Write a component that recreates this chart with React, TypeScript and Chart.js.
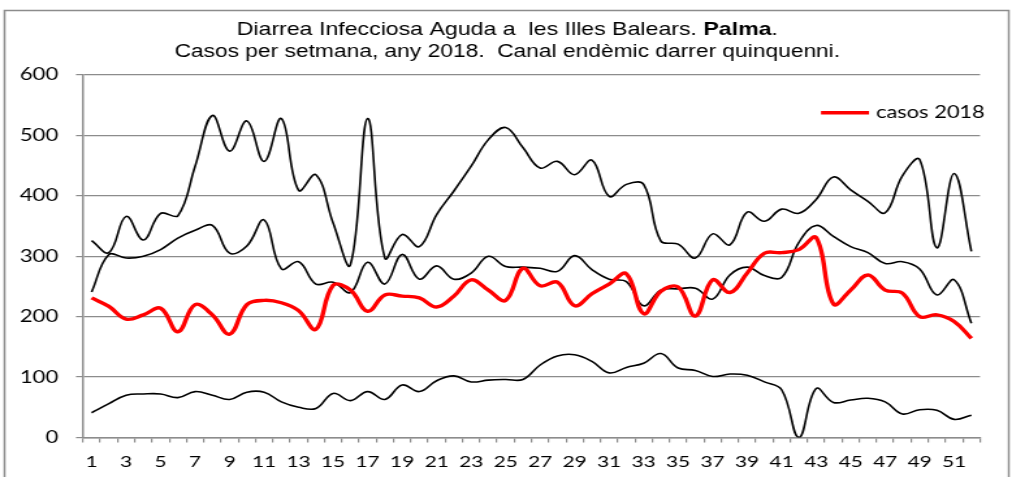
import React, { useEffect, useRef } from 'react';
import { Chart, registerables } from 'chart.js';

Chart.register(...registerables);

// ---- data ----
const weeks = [
  '1', '2', '3', '4', '5', '6', '7', '8', '9', '10', '11', '12', '13',
  '14', '15', '16', '17', '18', '19', '20', '21', '22', '23', '24', '25', '26',
  '27', '28', '29', '30', '31', '32', '33', '34', '35', '36', '37', '38', '39',
  '40', '41', '42', '43', '44', '45', '46', '47', '48', '49', '50', '51', '52',
];

const casos2018 = [
  231, 217, 196, 203, 214, 175, 220, 203, 171, 220, 227, 223, 210,
  179, 252, 244, 209, 236, 234, 231, 216, 234, 261, 244, 227, 280,
  251, 257, 218, 238, 254, 271, 205, 242, 249, 201, 261, 240, 272,
  305, 306, 311, 331, 221, 244, 269, 244, 239, 200, 203, 192, 164,
];

const maxim = [
  326, 306, 366, 327, 371, 367, 449, 533, 474, 524, 457, 528, 409,
  435, 355, 286, 528, 297, 336, 316, 369, 408, 449, 493, 513, 480,
  446, 457, 435, 459, 399, 419, 419, 325, 320, 297, 337, 319, 373,
  358, 378, 371, 394, 431, 410, 391, 372, 433, 460, 314, 437, 308,
];

const mediana = [
  241, 303, 297, 300, 311, 330, 343, 351, 305, 317, 360, 279, 291,
  254, 257, 240, 290, 254, 303, 262, 284, 262, 272, 300, 283, 282,
  280, 275, 301, 278, 262, 258, 218, 244, 246, 247, 229, 269, 282,
  268, 265, 323, 351, 333, 316, 306, 288, 291, 279, 236, 261, 189,
];

const minim = [
  41, 56, 70, 72, 72, 66, 76, 70, 63, 75, 75, 59, 50,
  48, 73, 61, 76, 63, 87, 76, 94, 102, 92, 95, 96, 96,
  120, 135, 137, 126, 107, 116, 123, 139, 115, 111, 101, 105, 103,
  92, 79, 0, 81, 58, 62, 65, 59, 39, 46, 45, 30, 37,
];

const yTicks = [0, 100, 200, 300, 400, 500, 600];

const title1a = 'Diarrea Infecciosa Aguda a  les Illes Balears. ';
const title1b = 'Palma';
const title1c = '.';
const title2 = 'Casos per setmana, any 2018.  Canal endèmic darrer quinquenni.';
const legendLabel = 'casos 2018';

// ---- layout (internal canvas coords; canvas is stretched horizontally) ----
const W = 778;
const H = 500;
const SX = 1012 / W;
const AREA_LEFT = 83 / SX;
const AREA_RIGHT = 980 / SX;
const AREA_TOP = 75;
const AREA_BOTTOM = 437.5;
const X_AXIS_H = 40;
const GRID = '#8c8c8c';

const framePlugin = {
  id: 'frame',
  beforeDraw(chart: any) {
    const ctx = chart.ctx;
    ctx.save();
    ctx.fillStyle = '#ffffff';
    ctx.fillRect(0, 0, chart.width, chart.height);
    ctx.strokeStyle = GRID;
    ctx.lineWidth = 1.5;
    ctx.strokeRect(3.5, 10.5, 772, 600);
    ctx.restore();
  },
};

const titlePlugin = {
  id: 'customTitle',
  afterDraw(chart: any) {
    const ctx = chart.ctx;
    ctx.save();
    const fam = '"Liberation Sans", Arial, sans-serif';
    const fN = `17.8px ${fam}`;
    const fB = `bold 17.8px ${fam}`;
    const cx = 390;
    ctx.fillStyle = '#000';
    ctx.textBaseline = 'middle';
    ctx.textAlign = 'left';
    ctx.font = fN;
    const wa = ctx.measureText(title1a).width;
    const wc = ctx.measureText(title1c).width;
    ctx.font = fB;
    const wb = ctx.measureText(title1b).width;
    let x = cx - (wa + wb + wc) / 2;
    const y1 = 30;
    ctx.font = fN;
    ctx.fillText(title1a, x, y1);
    x += wa;
    ctx.font = fB;
    ctx.fillText(title1b, x, y1);
    x += wb;
    ctx.font = fN;
    ctx.fillText(title1c, x, y1);
    ctx.font = `17.5px ${fam}`;
    ctx.textAlign = 'center';
    ctx.fillText(title2, cx, 52);
    ctx.restore();
  },
};

const legendPlugin = {
  id: 'customLegend',
  afterDraw(chart: any) {
    const ctx = chart.ctx;
    const ds = chart.data.datasets[0];
    ctx.save();
    const y = 112.7;
    ctx.strokeStyle = ds.borderColor;
    ctx.lineWidth = 3.4;
    ctx.beginPath();
    ctx.moveTo(821 / SX, y);
    ctx.lineTo(869 / SX, y);
    ctx.stroke();
    ctx.fillStyle = '#000';
    ctx.font = '16.8px Lato, "Open Sans", sans-serif';
    ctx.textBaseline = 'middle';
    ctx.textAlign = 'left';
    ctx.fillText(ds.label, 876 / SX, y);
    ctx.restore();
  },
};

export default function App() {
  const ref = useRef<HTMLCanvasElement | null>(null);

  useEffect(() => {
    if (!ref.current) return;
    const tickFont = { family: 'Lato, "Open Sans", sans-serif', size: 17 };
    const chart = new Chart(ref.current, {
      type: 'line',
      data: {
        labels: weeks,
        datasets: [
          {
            label: legendLabel,
            data: casos2018,
            borderColor: '#ff0000',
            borderWidth: 3.4,
            pointRadius: 0,
            fill: false,
          },
          {
            label: 'màxim',
            data: maxim,
            borderColor: '#000000',
            borderWidth: 1.6,
            pointRadius: 0,
            fill: false,
          },
          {
            label: 'mediana',
            data: mediana,
            borderColor: '#000000',
            borderWidth: 1.6,
            pointRadius: 0,
            fill: false,
          },
          {
            label: 'mínim',
            data: minim,
            borderColor: '#000000',
            borderWidth: 1.6,
            pointRadius: 0,
            fill: false,
          },
        ],
      },
      options: {
        animation: false,
        responsive: true,
        maintainAspectRatio: false,
        layout: {
          padding: {
            left: 0,
            right: W - AREA_RIGHT,
            top: AREA_TOP,
            bottom: H - AREA_BOTTOM - X_AXIS_H,
          },
        },
        elements: {
          point: { radius: 0 },
          line: { tension: 0.4, cubicInterpolationMode: 'default' },
        },
        plugins: {
          legend: { display: false },
          title: { display: false },
          tooltip: { enabled: false },
        },
        scales: {
          x: {
            offset: true,
            grid: {
              display: true,
              offset: true,
              drawOnChartArea: false,
              drawTicks: true,
              tickLength: 5,
              color: GRID,
              lineWidth: 1.2,
            },
            border: { display: true, color: GRID, width: 1.5 },
            ticks: {
              autoSkip: false,
              maxRotation: 0,
              minRotation: 0,
              padding: 10,
              color: '#000',
              font: { family: tickFont.family, size: 16 },
              callback: (_v: any, i: number) => (i % 2 === 0 ? weeks[i] : ''),
            },
            afterFit: (s: any) => {
              s.height = X_AXIS_H;
            },
          },
          y: {
            min: yTicks[0],
            max: yTicks[yTicks.length - 1],
            afterBuildTicks: (s: any) => {
              s.ticks = yTicks.map((v) => ({ value: v }));
            },
            grid: {
              color: GRID,
              lineWidth: 1.2,
              drawTicks: true,
              tickLength: 5.4,
            },
            border: { display: true, color: GRID, width: 1.5 },
            ticks: {
              padding: 13.6,
              color: '#000',
              font: tickFont,
            },
            afterFit: (s: any) => {
              s.width = AREA_LEFT;
            },
          },
        },
      },
      plugins: [framePlugin, titlePlugin, legendPlugin],
    } as any);
    return () => chart.destroy();
  }, []);

  return (
    <div
      style={{
        position: 'fixed',
        left: 0,
        top: 0,
        width: 1012,
        height: 477,
        overflow: 'hidden',
        background: '#ffffff',
      }}
    >
      <div
        style={{
          position: 'relative',
          width: W,
          height: H,
          transform: `scaleX(${SX})`,
          transformOrigin: '0 0',
        }}
      >
        <canvas ref={ref} />
      </div>
    </div>
  );
}
